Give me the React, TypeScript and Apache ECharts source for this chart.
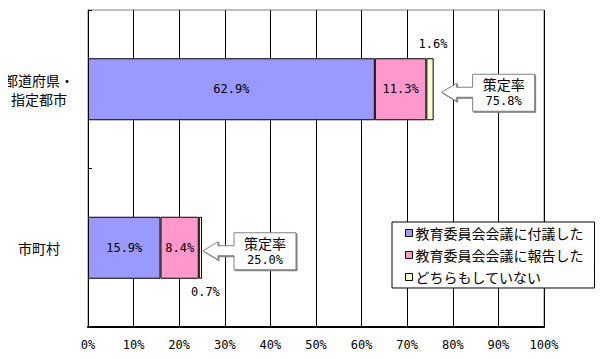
import React, { useEffect, useRef } from "react";
import * as echarts from "echarts";

const categories = ["都道府県・\n指定都市", "市町村"];
const seriesNames = ["教育委員会会議に付議した", "教育委員会会議に報告した", "どちらもしていない"];
const deliberated = [62.9, 15.9];
const reported = [11.3, 8.4];
const neither = [1.6, 0.7];
const calloutTitle = "策定率";
const totals = [75.8, 25.0];
const xTicks = [0, 10, 20, 30, 40, 50, 60, 70, 80, 90, 100];

const colors = ["#9999FF", "#FF99CC", "#FFFFCC"];
const MONO = "'DejaVu Sans Mono', monospace";
const CJK = "'Noto Sans CJK JP', sans-serif";

export default function App() {
  const ref = useRef<HTMLDivElement>(null);
  useEffect(() => {
    if (!ref.current) return;
    const chart = echarts.init(ref.current, null, { renderer: "svg" });
    const fmt = (p: any) => Number(p.value).toFixed(1) + "%";
    const insideLabel = {
      show: true,
      position: "inside",
      formatter: fmt,
      fontFamily: MONO,
      fontSize: 12,
      color: "#000",
    };
    const smallLabelPos = [
      { position: "top", distance: 8, offset: [3, 0] },
      { position: "bottom", distance: 7, offset: [5, 0] },
    ];
    const option: any = {
      animation: false,
      backgroundColor: "#fff",
      grid: {
        left: 88,
        right: 59,
        top: 10,
        bottom: 32,
        show: true,
        borderColor: "#808080",
        borderWidth: 1,
        backgroundColor: "transparent",
      },
      xAxis: {
        type: "value",
        min: xTicks[0],
        max: xTicks[xTicks.length - 1],
        interval: 10,
        axisLine: { show: true, lineStyle: { color: "#000", width: 2 } },
        axisTick: { show: false },
        splitLine: { show: true, lineStyle: { color: "#000", width: 1 } },
        axisLabel: {
          formatter: "{value}%",
          fontFamily: MONO,
          fontSize: 12,
          color: "#000",
          margin: 12,
        },
      },
      yAxis: {
        type: "category",
        data: categories,
        inverse: true,
        axisLine: { show: true, lineStyle: { color: "#000", width: 1 } },
        axisTick: { show: true, inside: true, length: 4, lineStyle: { color: "#000" } },
        axisLabel: {
          margin: 15,
          color: "#000",
          fontFamily: CJK,
          fontSize: 14,
          lineHeight: 19,
          formatter: (v: string) =>
            v
              .split("\n")
              .map((s) => "{a|" + s + "}")
              .join("\n"),
          rich: {
            a: { width: 68, align: "center", fontFamily: CJK, fontSize: 14, lineHeight: 19, color: "#000" },
          },
        },
      },
      legend: {
        orient: "vertical",
        left: 392,
        top: 222,
        width: 205,
        backgroundColor: "#fff",
        borderColor: "#000",
        borderWidth: 1,
        padding: [4, 11, 4, 13],
        itemGap: 8,
        itemWidth: 7,
        itemHeight: 7,
        icon: "rect",
        textStyle: { fontFamily: CJK, fontSize: 14, color: "#000", padding: [0, 0, 0, -2] },
        data: seriesNames.map((n) => ({ name: n, itemStyle: { borderColor: "#000", borderWidth: 1 } })),
      },
      series: [
        {
          name: seriesNames[0],
          type: "bar",
          stack: "s",
          barWidth: 62,
          data: deliberated,
          itemStyle: { color: colors[0], borderColor: "#000", borderWidth: 1 },
          label: insideLabel,
        },
        {
          name: seriesNames[1],
          type: "bar",
          stack: "s",
          data: reported,
          itemStyle: { color: colors[1], borderColor: "#000", borderWidth: 1 },
          label: insideLabel,
        },
        {
          name: seriesNames[2],
          type: "bar",
          stack: "s",
          data: neither.map((v, i) => ({ value: v, label: smallLabelPos[i] })),
          itemStyle: { color: colors[2], borderColor: "#000", borderWidth: 1 },
          label: {
            show: true,
            formatter: fmt,
            fontFamily: MONO,
            fontSize: 12,
            color: "#000",
          },
        },
      ],
    };
    chart.setOption(option);

    // Callouts positioned from the bar totals via the chart's own scales
    const gaps = [8, 1];
    const graphics: any[] = [];
    totals.forEach((t, i) => {
      const p = chart.convertToPixel({ xAxisIndex: 0, yAxisIndex: 0 }, [t, i]) as number[];
      const tx = p[0] + gaps[i];
      const ty = p[1] + 3;
      const head = 15;
      const shaft = 16;
      const boxL = tx + head + shaft;
      const boxW = 62;
      const boxTop = ty - 18;
      const boxH = 37;
      const pts = [
        [tx, ty],
        [tx + head, ty - 9],
        [tx + head, ty - 5],
        [boxL, ty - 5],
        [boxL, boxTop],
        [boxL + boxW, boxTop],
        [boxL + boxW, boxTop + boxH],
        [boxL, boxTop + boxH],
        [boxL, ty + 5],
        [tx + head, ty + 5],
        [tx + head, ty + 9],
      ];
      graphics.push({
        type: "polygon",
        z: 100,
        shape: { points: pts.map((q) => [q[0] + 1, q[1] + 1]) },
        style: { fill: "#808080", stroke: "#808080", lineWidth: 1 },
      });
      graphics.push({
        type: "polygon",
        z: 101,
        shape: { points: pts },
        style: { fill: "#fff", stroke: "#808080", lineWidth: 1 },
      });
      graphics.push({
        type: "text",
        z: 102,
        x: boxL + boxW / 2,
        y: boxTop + 10,
        style: {
          text: calloutTitle,
          fontFamily: CJK,
          fontSize: 14,
          fill: "#000",
          align: "center",
          verticalAlign: "middle",
        },
      });
      graphics.push({
        type: "text",
        z: 102,
        x: boxL + boxW / 2,
        y: boxTop + 27,
        style: {
          text: t.toFixed(1) + "%",
          fontFamily: MONO,
          fontSize: 12,
          fill: "#000",
          align: "center",
          verticalAlign: "middle",
        },
      });
    });
    chart.setOption({ graphic: graphics });

    return () => chart.dispose();
  }, []);
  return <div ref={ref} style={{ width: 603, height: 359, margin: -8 }} />;
}
